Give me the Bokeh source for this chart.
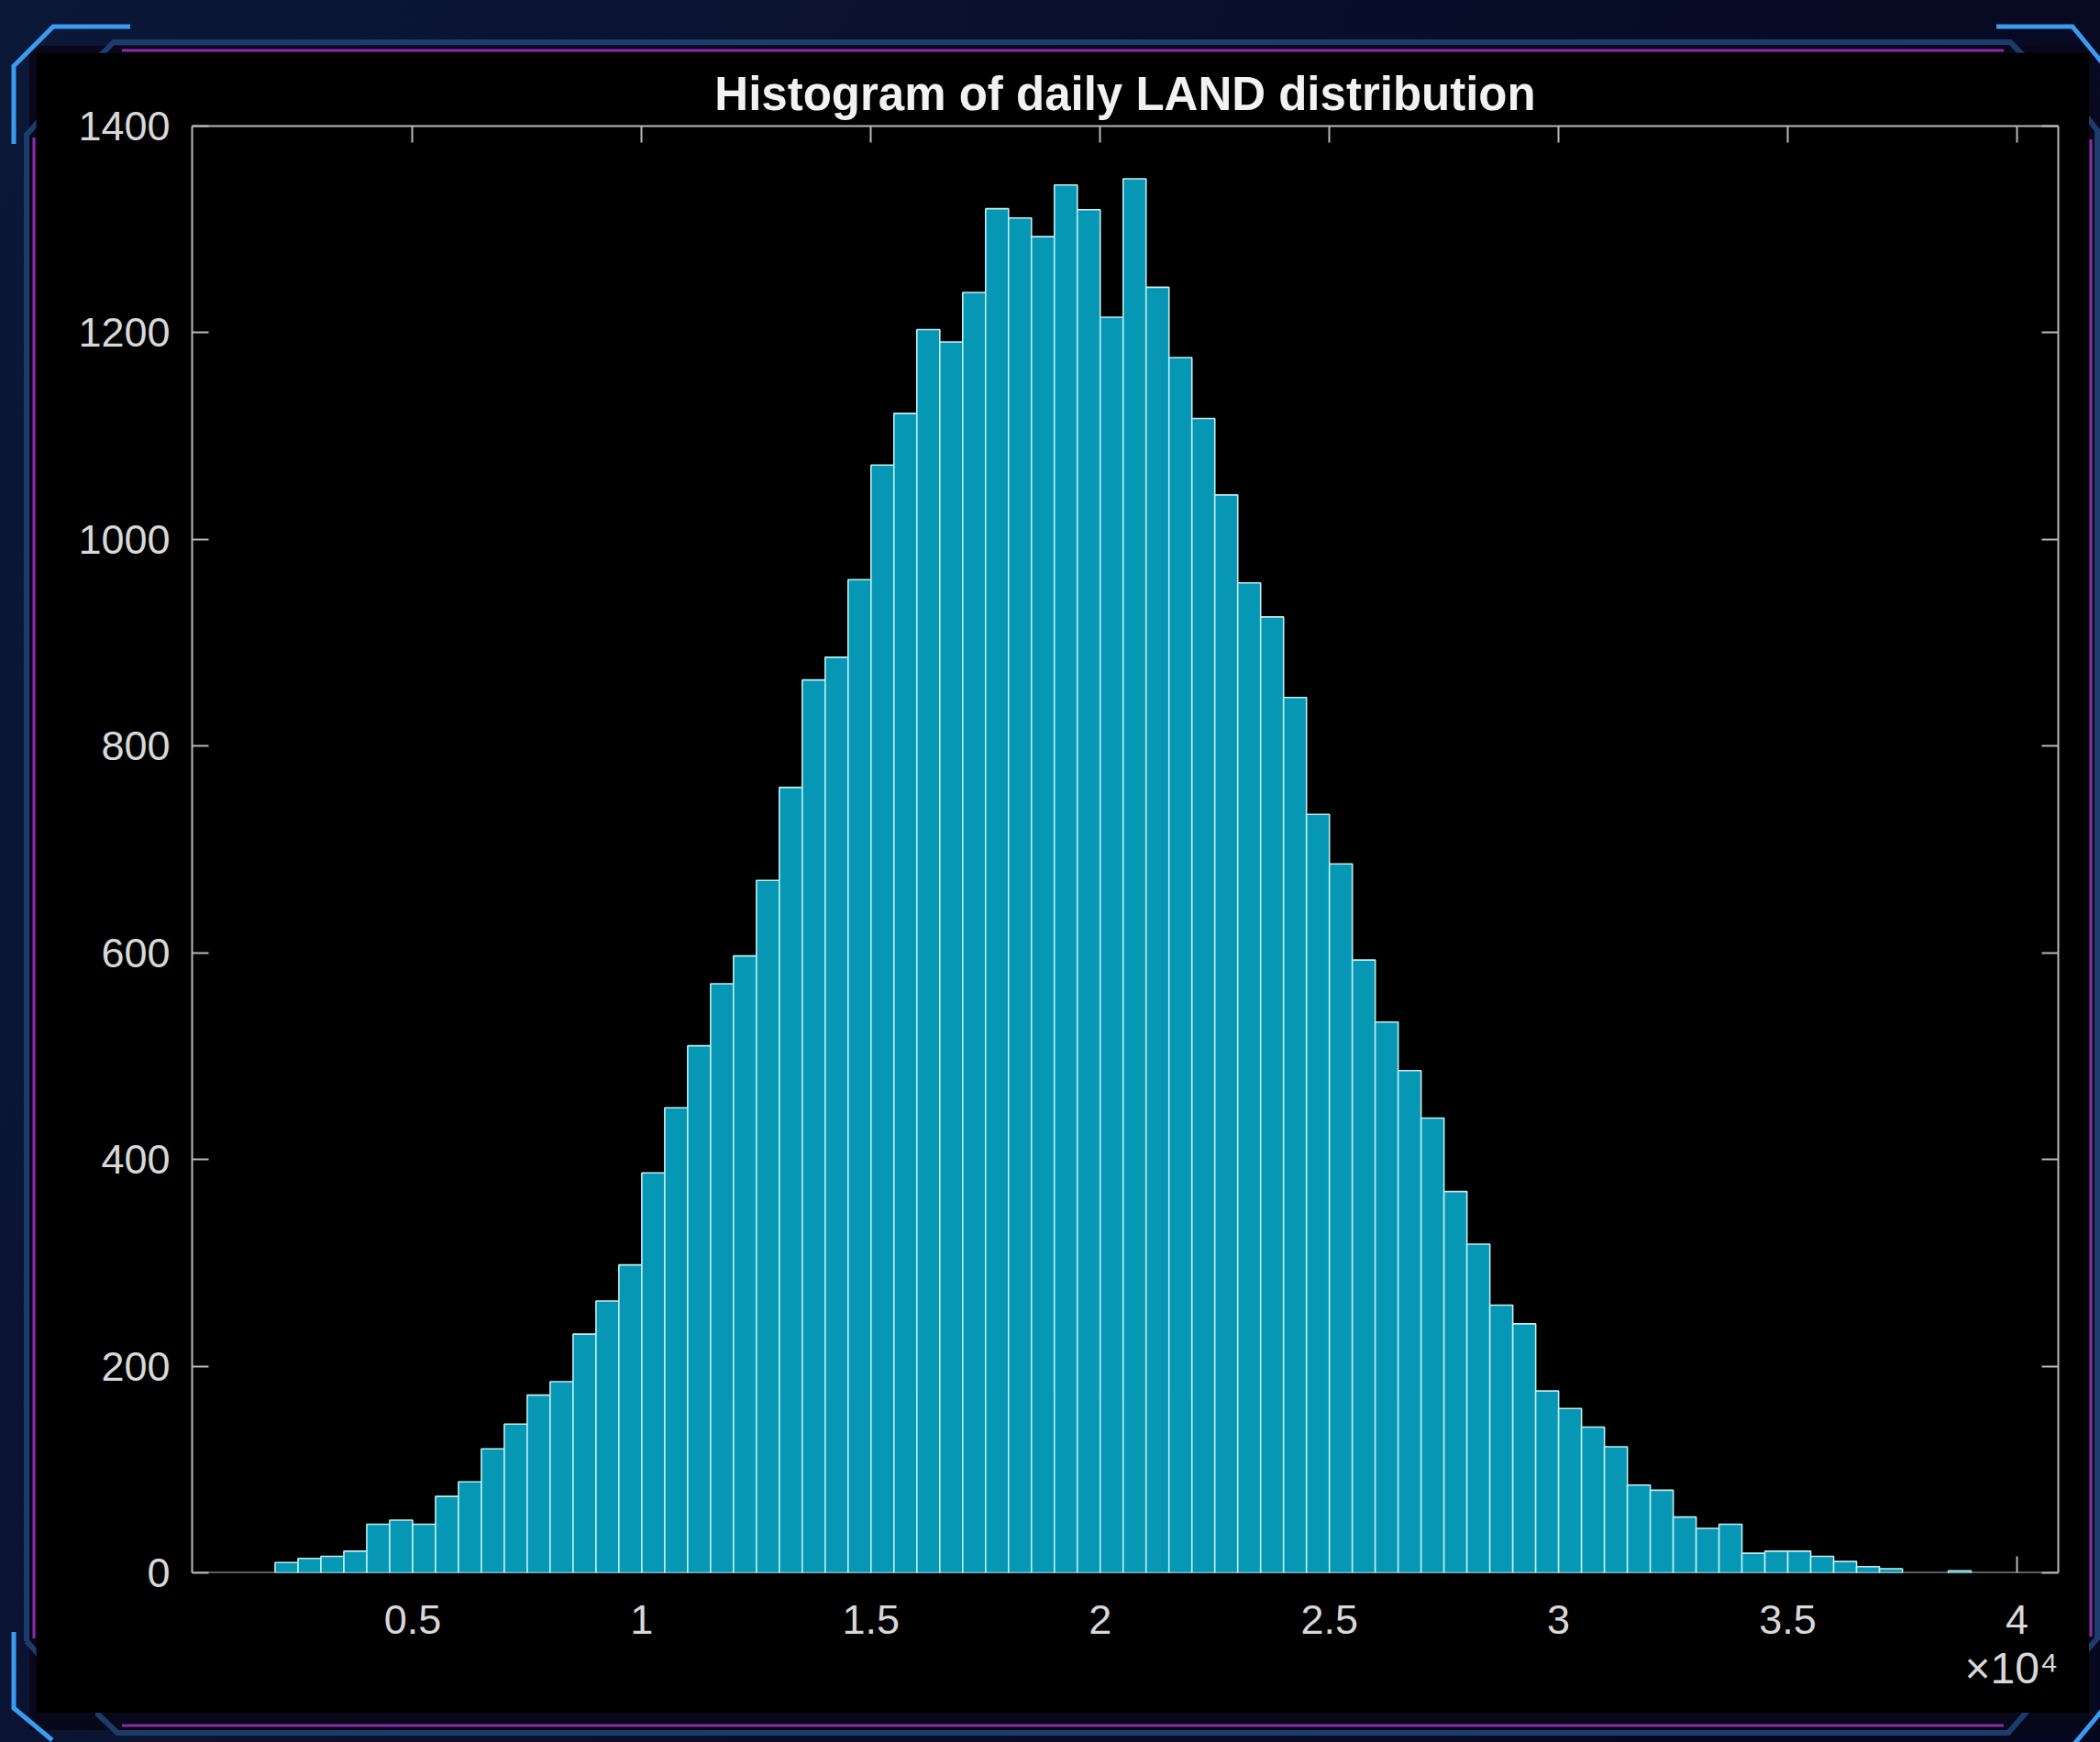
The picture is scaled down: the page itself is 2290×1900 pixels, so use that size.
import base64
import numpy as np
from bokeh.plotting import figure
from bokeh.models import (Range1d, FixedTicker, LinearAxis, Title,
                          GlobalInlineStyleSheet, ColumnDataSource)
from bokeh.embed import file_html
from bokeh.resources import INLINE

# ---------------- data ----------------
title_text = "Histogram of daily LAND distribution"
bin_edges = np.arange(2000, 39001, 500)          # bin width 500
counts = [10, 14, 16, 21, 47, 51, 47, 74, 88, 120, 144, 172, 185, 231, 263, 298,
          387, 450, 510, 570, 597, 670, 760, 864, 886, 961, 1072, 1122, 1203, 1191,
          1239, 1320, 1311, 1293, 1343, 1319, 1215, 1349, 1244, 1176, 1117, 1043,
          958, 925, 847, 734, 686, 593, 533, 486, 440, 369, 318, 259, 241, 176, 159,
          141, 122, 85, 80, 54, 43, 47, 19, 21, 21, 16, 11, 6, 4, 0, 0, 2]
x_ticks = [5000, 10000, 15000, 20000, 25000, 30000, 35000, 40000]
x_tick_labels = ["0.5", "1", "1.5", "2", "2.5", "3", "3.5", "4"]
y_ticks = [0, 200, 400, 600, 800, 1000, 1200, 1400]
y_tick_labels = ["0", "200", "400", "600", "800", "1000", "1200", "1400"]
exponent_text = "\u00d710\u2074"

# ---------------- styles ----------------
FONT = "Liberation Sans"
AXIS_COLOR = "#b9b9b9"
LABEL_COLOR = "#d8d8d8"
BAR_FILL = "#0597b3"
BAR_EDGE = "#bfeff4"

svg = '''<svg xmlns="http://www.w3.org/2000/svg" width="2290" height="1900" viewBox="0 0 2290 1900">
<defs><linearGradient id="g" x1="0" y1="0" x2="1" y2="0.3">
<stop offset="0" stop-color="#0c1838"/><stop offset="1" stop-color="#060820"/></linearGradient></defs>
<rect width="2290" height="1900" fill="url(#g)"/>
<rect x="32" y="50" width="2252" height="1837" fill="#08081a"/>
<g fill="none" stroke="#1c3c6b" stroke-width="6">
<path d="M 29 1790 L 29 147 L 47 127 L 60 127 L 72 114"/>
<path d="M 95 86 L 107 74 L 107 63 L 124 46 L 2192 46 L 2210 64 L 2210 75 L 2224 88"/>
<path d="M 2247 112 L 2259 123 L 2272 123 L 2287 142 L 2287 1787 L 2273 1803 L 2257 1813 L 2243 1830"/>
<path d="M 2223 1848 L 2212 1860 L 2210 1867 L 2190 1890 L 128 1890 L 107 1870 L 107 1860 L 95 1850"/>
<path d="M 71 1826 L 60 1812 L 47 1810 L 29 1790"/>
</g>
<g fill="none" stroke="#8e2aa8" stroke-width="3">
<path d="M 133 55 L 2185 55"/><path d="M 2280 152 L 2280 1785"/>
<path d="M 2185 1882 L 133 1882"/><path d="M 37 1787 L 37 150"/>
</g>
<g fill="none" stroke="#3a9cf0" stroke-width="5">
<path d="M 15 157 L 15 72 L 58 29 L 142 29"/>
<path d="M 2177 29 L 2260 29 L 2292 68"/>
<path d="M 15 1780 L 15 1863 L 57 1898"/>
<path d="M 2262 1902 L 2292 1866"/>
<path d="M 63 92 L 78 78"/><path d="M 2242 78 L 2255 92"/>
<path d="M 63 1845 L 77 1859"/><path d="M 2243 1857 L 2255 1845"/>
</g></svg>'''
b64 = base64.b64encode(svg.encode("utf-8")).decode("ascii")
css = ("html { background: #070a20 url('data:image/svg+xml;base64,%s') no-repeat 0 0; }"
       " body { margin: 0; padding: 57px 0 0 39px; }" % b64)

# ---------------- figure ----------------
p = figure(frame_width=2035, frame_height=1578,
           x_range=Range1d(190, 40900), y_range=Range1d(0, 1400),
           output_backend="svg", toolbar_location=None,
           min_border_left=170, min_border_right=34,
           min_border_top=80, min_border_bottom=153,
           background_fill_color="black", border_fill_color="black",
           outline_line_color=None, title=title_text)
p.stylesheets = [GlobalInlineStyleSheet(css=css)]
p.grid.visible = False

p.title.text_font = FONT
p.title.text_font_size = "51px"
p.title.text_font_style = "bold"
p.title.text_color = "#f2f2f2"
p.title.align = "center"
p.title.offset = -7
p.title.standoff = 13

cnt = np.array(counts)
mask = cnt > 0
src = ColumnDataSource(dict(left=bin_edges[:-1][mask], right=bin_edges[1:][mask],
                            top=cnt[mask]))
p.quad(left="left", right="right", top="top", bottom=0, source=src,
       fill_color=BAR_FILL, line_color=BAR_EDGE, line_width=1.6)


def style_axis(ax, ticks, labels, show_line, show_labels, standoff):
    ax.ticker = FixedTicker(ticks=ticks, minor_ticks=[])
    ax.minor_tick_line_color = None
    ax.major_tick_out = 0
    if show_line:
        ax.axis_line_color = AXIS_COLOR
        ax.axis_line_width = 2
        ax.major_tick_line_color = AXIS_COLOR
        ax.major_tick_line_width = 2
        ax.major_tick_in = 18
    else:
        ax.axis_line_color = None
        ax.major_tick_line_color = None
        ax.major_tick_in = 0
    if show_labels:
        ax.major_label_overrides = {t: l for t, l in zip(ticks, labels)}
        ax.major_label_text_font = FONT
        ax.major_label_text_font_size = "45px"
        ax.major_label_text_color = LABEL_COLOR
        ax.major_label_standoff = standoff
    else:
        ax.major_label_overrides = {t: "" for t in ticks}
        ax.major_label_text_font_size = "0px"
        ax.major_label_standoff = 0


# bottom axis line + inward ticks, drawn beneath the bars (as in the original)
style_axis(p.xaxis[0], x_ticks, x_tick_labels, True, False, 0)
p.xaxis[0].level = "underlay"
# bottom tick labels
x_lab = LinearAxis()
style_axis(x_lab, x_ticks, x_tick_labels, False, True, 35)
p.add_layout(x_lab, "below")

style_axis(p.yaxis[0], y_ticks, y_tick_labels, True, True, 24)

top_ax = LinearAxis()
style_axis(top_ax, x_ticks, x_tick_labels, True, False, 0)
p.add_layout(top_ax, "above")
right_ax = LinearAxis()
style_axis(right_ax, y_ticks, y_tick_labels, True, False, 0)
p.add_layout(right_ax, "right")

# exponent of the x axis
p.add_layout(Title(text=exponent_text, align="right", text_font=FONT,
                   text_font_size="48px", text_font_style="normal",
                   text_color=LABEL_COLOR, standoff=12), "below")

open("out.html", "w").write(file_html(p, INLINE))
